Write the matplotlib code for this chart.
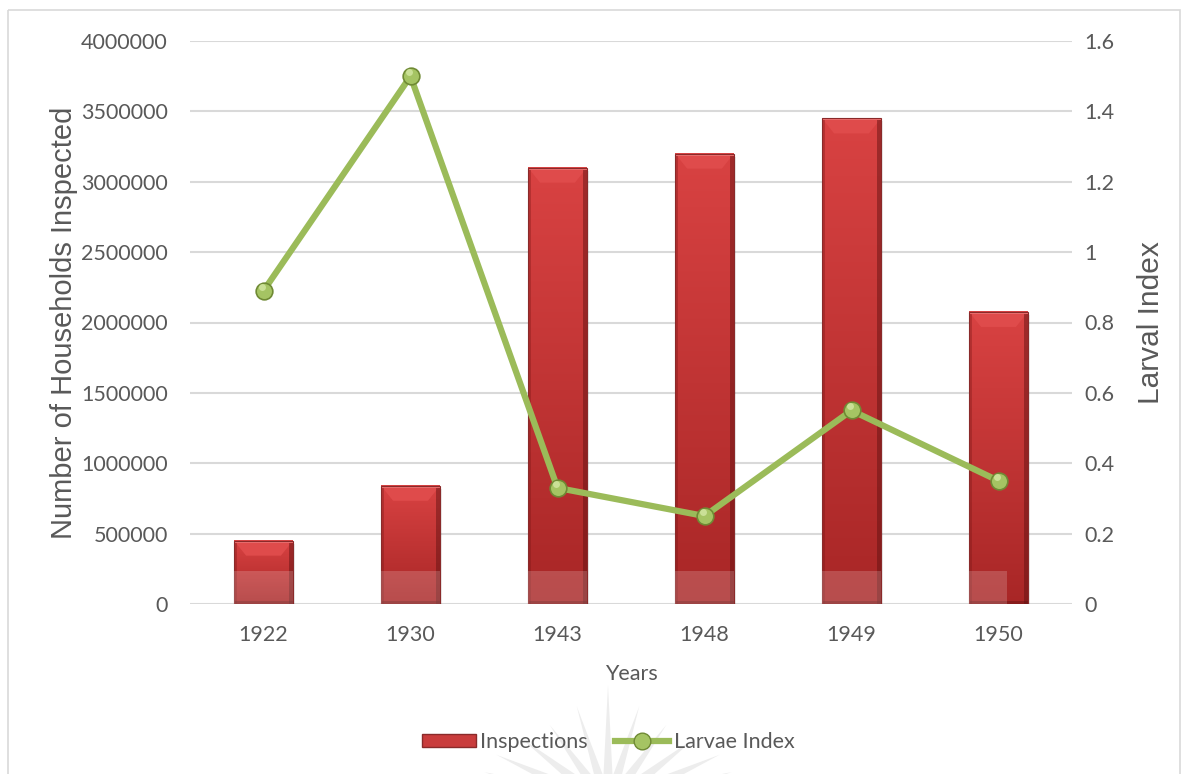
import numpy as np
import matplotlib.pyplot as plt
from matplotlib.patches import Rectangle, Polygon
from matplotlib.lines import Line2D
from matplotlib.ticker import FuncFormatter

years = ['1922', '1930', '1943', '1948', '1949', '1950']
inspections = [450000, 840000, 3100000, 3200000, 3450000, 2075000]
larvae_index = [0.89, 1.5, 0.33, 0.25, 0.55, 0.35]

TXT = '#595959'
GRID = '#d9d9d9'
GREEN = '#9bbb59'
TICK_FONT = ['Lato', 'DejaVu Sans']
TITLE_FONT = ['Liberation Sans', 'DejaVu Sans']

fig = plt.figure(figsize=(11.85, 7.74), dpi=100)
ax = fig.add_axes([190 / 1185, 1 - 604 / 774, 882 / 1185, 563 / 774])
ax2 = ax.twinx()

x = np.arange(len(years))
w = 0.4
ymax = 4000000
ax.set_xlim(-0.5, len(years) - 0.5)
ax.set_ylim(0, ymax)
ax2.set_ylim(0, 1.6)

# pixel -> data helpers for the bevel widths
px_x = 1 / 147.0
px_y = ymax / 563.0

# vertical gradient used inside each bar
grad = np.linspace(0, 1, 256).reshape(-1, 1)
top_c = np.array([0.85, 0.26, 0.26])
bot_c = np.array([0.66, 0.15, 0.15])
grad_img = top_c * (1 - grad[..., None]) + bot_c * grad[..., None]

for xi, h in zip(x, inspections):
    l, r = xi - w / 2, xi + w / 2
    # soft shadow
    ax.add_patch(Rectangle((l + 2 * px_x, -3 * px_y), w, h, facecolor='#000000',
                           alpha=0.08, lw=0, zorder=1.5))
    ax.imshow(grad_img, extent=(l, r, 0, h), aspect='auto', zorder=2,
              interpolation='bilinear')
    # bevel: lighter top, darker sides
    bt = min(15 * px_y, h * 0.3)
    bs = 12 * px_x
    ax.add_patch(Polygon([(l, h), (r, h), (r - bs, h - bt), (l + bs, h - bt)],
                         closed=True, facecolor='#df4b4b', lw=0, zorder=2.2))
    ax.add_patch(Rectangle((l, h - 2 * px_y), w, 2 * px_y, facecolor='#ec7070',
                           lw=0, zorder=2.25))
    ax.add_patch(Rectangle((l, 0), 3 * px_x, h, facecolor='#7a1515', alpha=0.35,
                           lw=0, zorder=2.2))
    ax.add_patch(Rectangle((r - 4 * px_x, 0), 4 * px_x, h, facecolor='#5a0f0f',
                           alpha=0.45, lw=0, zorder=2.2))
    ax.add_patch(Rectangle((l, 0), w, 3 * px_y, facecolor='#5a0f0f', alpha=0.4,
                           lw=0, zorder=2.2))
    ax.add_patch(Rectangle((l, 0), w, h, facecolor='none', edgecolor='#8a2a2a',
                           lw=0.8, zorder=2.3))
    # faint wash near the base
    wr = r if xi < len(years) - 1 else xi + 0.06
    ax.add_patch(Rectangle((l, 0), wr - l, 235000, facecolor='white', alpha=0.18,
                           lw=0, zorder=2.4))

ax.set_yticks(np.arange(0, ymax + 1, 500000))
ax.yaxis.set_major_formatter(FuncFormatter(lambda v, p: f'{int(v)}'))
ax.grid(axis='y', color=GRID, lw=1.5, zorder=0)
ax.set_axisbelow(True)
ax.set_xticks(x)
ax.set_xticklabels(years)
for a in (ax, ax2):
    for s in a.spines.values():
        s.set_visible(False)
    a.tick_params(length=0, colors=TXT, labelsize=15.5)
ax.tick_params(axis='y', pad=16)
ax.tick_params(axis='x', pad=15)
ax2.tick_params(axis='y', pad=9)
for lab in ax.get_xticklabels() + ax.get_yticklabels():
    lab.set_fontfamily(TICK_FONT)

ax2.set_yticks(np.arange(0, 1.61, 0.2))
ax2.yaxis.set_major_formatter(FuncFormatter(lambda v, p: f'{v:g}'))
for lab in ax2.get_yticklabels():
    lab.set_fontfamily(TICK_FONT)

ax2.plot(x, larvae_index, color=GREEN, lw=4.5, solid_capstyle='round', zorder=3)
ax2.plot(x, larvae_index, ls='none', marker='o', ms=12, mfc='#a5c463',
         mec='#6f8a34', mew=1.2, zorder=4)
ax2.plot(x - 0.012, [v + 0.012 for v in larvae_index], ls='none', marker='o', ms=5,
         mfc='#d4e8a4', mec='none', alpha=0.8, zorder=5)

ax.set_ylabel('Number of Households Inspected', fontsize=21, color=TXT,
              family=TITLE_FONT, labelpad=2)
ax2.set_ylabel('Larval Index', fontsize=21.5, color=TXT, family=TITLE_FONT,
               labelpad=16)
ax.set_xlabel('Years', fontsize=15.5, color=TXT, family=TICK_FONT, labelpad=14)

# faint fan watermark at the bottom
wm = fig.add_axes([0, 0, 1, 1], zorder=-1)
wm.set_xlim(0, 1185)
wm.set_ylim(774, 0)
wm.axis('off')
cx, cy = 608, 805
for ang, ln, hw in [(0, 120, 6), (-9, 100, 6), (9, 100, 6), (-20, 85, 7), (20, 85, 7),
                    (-33, 80, 8), (33, 80, 8), (-48, 75, 9), (48, 75, 9),
                    (-62, 70, 9), (62, 70, 9)]:
    t = np.deg2rad(ang)
    tip = (cx + ln * np.sin(t) * 2.0, cy - ln * np.cos(t))
    nx, ny = np.cos(t), np.sin(t)
    wm.add_patch(Polygon([(cx - hw * nx, cy - hw * ny), tip, (cx + hw * nx, cy + hw * ny)],
                         closed=True, facecolor='#ededed', lw=0))
wm.add_patch(Rectangle((8, 10), 1172, 800, facecolor='none', edgecolor='#d9d9d9', lw=1.2))

handles = [Rectangle((0, 0), 1, 1, facecolor='#c93c3c', edgecolor='#8a2a2a', lw=1),
           Line2D([], [], color=GREEN, lw=4.5, marker='o', ms=12, mfc='#a5c463',
                  mec='#6f8a34')]
fig.legend(handles, ['Inspections', 'Larvae Index'], loc='center',
           bbox_to_anchor=(608 / 1185, 1 - 742 / 774), ncol=2, frameon=False,
           prop={'family': TICK_FONT, 'size': 15.5}, labelcolor=TXT,
           handlelength=2.5, handleheight=0.6, handletextpad=0.2, columnspacing=1.3)

fig.savefig('out.png', dpi=100)
